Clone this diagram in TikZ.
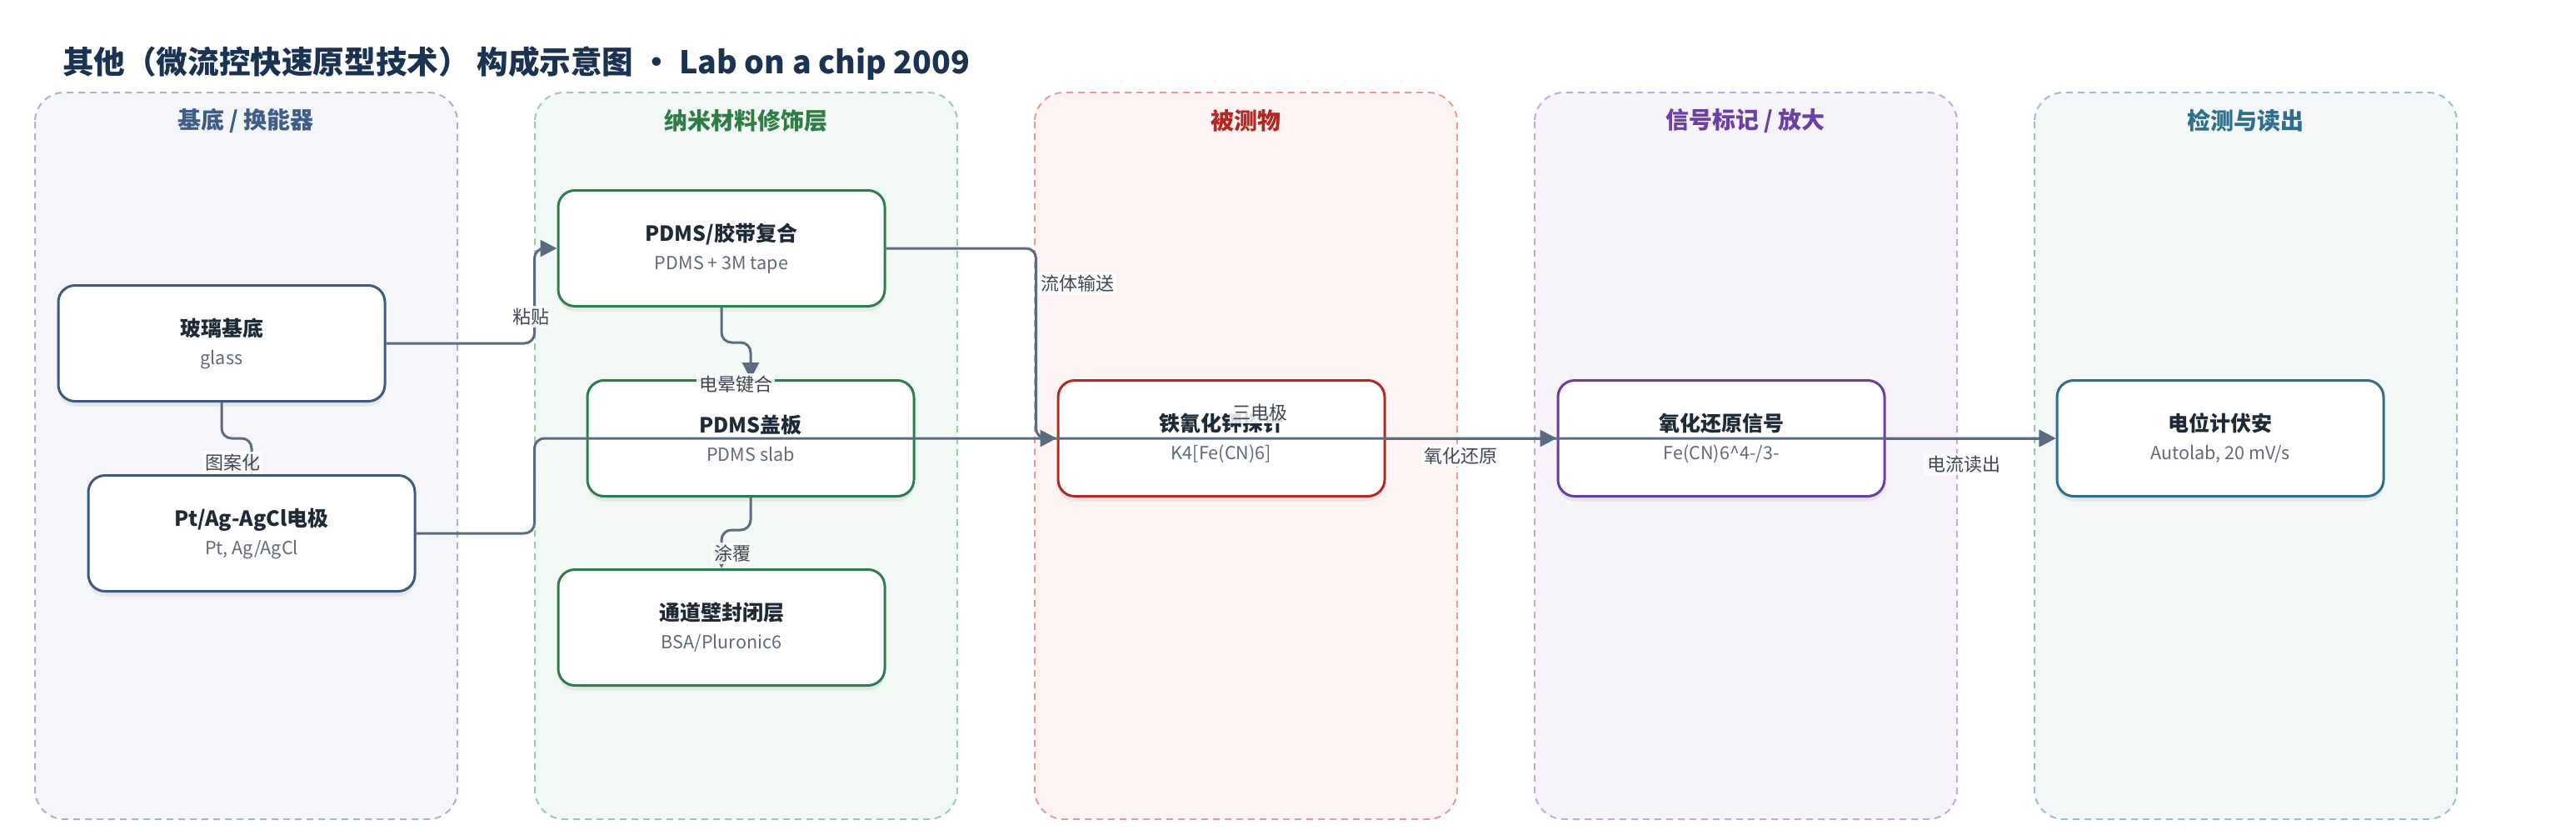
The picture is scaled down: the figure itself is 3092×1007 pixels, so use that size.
\documentclass[tikz,border=0pt]{standalone}
\usepackage{fontspec}
\setmainfont{Noto Sans CJK SC}
\usetikzlibrary{arrows.meta,shadows}

\definecolor{titleink}{HTML}{1B3352}
\definecolor{nodeink}{HTML}{1F2A37}
\definecolor{subink}{HTML}{5F6B7A}
\definecolor{edgeink}{HTML}{5B6B80}
\definecolor{labelink}{HTML}{3F4752}

\definecolor{pafill}{HTML}{F5F6FA}\definecolor{paline}{HTML}{A7B4C6}\definecolor{pahead}{HTML}{3F5D87}\definecolor{pabox}{HTML}{3D5A80}
\definecolor{pbfill}{HTML}{F2F8F4}\definecolor{pbline}{HTML}{9CCBAA}\definecolor{pbhead}{HTML}{2E7D45}\definecolor{pbbox}{HTML}{2E7D4F}
\definecolor{pcfill}{HTML}{FDF3F2}\definecolor{pcline}{HTML}{E39C98}\definecolor{pchead}{HTML}{B32821}\definecolor{pcbox}{HTML}{B22A22}
\definecolor{pdfill}{HTML}{F6F3FA}\definecolor{pdline}{HTML}{C3A9DF}\definecolor{pdhead}{HTML}{6C3FA6}\definecolor{pdbox}{HTML}{6B3D9C}
\definecolor{pefill}{HTML}{F3F7F8}\definecolor{peline}{HTML}{9AC0CE}\definecolor{pehead}{HTML}{2F6F8E}\definecolor{pebox}{HTML}{2F6E8C}

\newcommand{\boxtext}[2]{{\fontsize{12.5}{17}\selectfont\bfseries #1}\\{\color{subink}#2}}

\tikzset{
  lane/.style={line width=1pt, dash pattern=on 4pt off 3pt, rounded corners=17.5pt},
  lanehead/.style={font=\fontsize{14}{16}\selectfont\bfseries},
  box/.style={draw, line width=1.5pt, rounded corners=10pt, fill=white,
    minimum width=196pt, minimum height=69.5pt, align=center, text=nodeink,
    font=\fontsize{10.8}{17}\selectfont,
    drop shadow={shadow xshift=0pt, shadow yshift=-3pt, opacity=0.12}},
  flow/.style={draw=edgeink, line width=1.5pt, rounded corners=6pt,
    -{Triangle[length=10pt,width=10pt]}},
  elabel/.style={fill=white, fill opacity=0.85, text opacity=1, inner sep=1.5pt,
    text=labelink, font=\fontsize{11}{12}\selectfont}
}

\begin{document}
\begin{tikzpicture}[x=0.5pt,y=0.5pt]

\fill[white] (0,0) rectangle (3092,-1007);
\useasboundingbox (0,0) rectangle (3092,-1007);

\node[anchor=west, text=titleink, font=\fontsize{18.8}{22}\selectfont\bfseries] (title) at (68,-76)
  {其他（微流控快速原型技术） 构成示意图 · Lab on a chip 2009};

%LANES
\draw[lane, draw=paline, fill=pafill] (42,-111) rectangle (549,-983);
\draw[lane, draw=pbline, fill=pbfill] (642,-111) rectangle (1149,-983);
\draw[lane, draw=pcline, fill=pcfill] (1242,-111) rectangle (1749,-983);
\draw[lane, draw=pdline, fill=pdfill] (1842,-111) rectangle (2349,-983);
\draw[lane, draw=peline, fill=pefill] (2442,-111) rectangle (2949,-983);

\node[lanehead, text=pahead] (ha) at (295,-145) {基底 / 换能器};
\node[lanehead, text=pbhead] (hb) at (895,-145) {纳米材料修饰层};
\node[lanehead, text=pchead] (hc) at (1495,-145) {被测物};
\node[lanehead, text=pdhead] (hd) at (2095,-145) {信号标记 / 放大};
\node[lanehead, text=pehead] (he) at (2695,-145) {检测与读出};
%LANES

\node[box, draw=pabox](glass) at (266,-412) {\boxtext{玻璃基底}{glass}};
\node[box, draw=pabox](electrode) at (302,-640) {\boxtext{Pt/Ag-AgCl电极}{Pt, Ag/AgCl}};

\node[box, draw=pbbox](pdmstape) at (866,-298) {\boxtext{PDMS/胶带复合}{PDMS + 3M tape}};
\node[box, draw=pbbox](pdmsslab) at (901,-526) {\boxtext{PDMS盖板}{PDMS slab}};
\node[box, draw=pbbox](channel) at (866,-753) {\boxtext{通道壁封闭层}{BSA/Pluronic6}};

\node[box, draw=pcbox](probe) at (1466,-526) {\boxtext{铁氰化钾探针}{K4[Fe(CN)6]}};
\node[box, draw=pdbox](redox) at (2066,-526) {\boxtext{氧化还原信号}{Fe(CN)6\^{}4-/3-}};
\node[box, draw=pebox](meter) at (2665,-526) {\boxtext{电位计伏安}{Autolab, 20 mV/s}};

\draw[flow] (glass.east) -- ++(178,0) |- (pdmstape.west);
\draw[flow] (electrode.east) -- ++(142,0) |- (meter.west);
\draw[flow] (pdmstape.east) -- ++(180,0) |- (probe.west);
\draw[flow] (probe.east) -- (redox.west);
\draw[flow] (redox.east) -- (meter.west);

\draw[flow] (glass.south) -- ++(0,-43) -| (electrode.north);
\draw[flow] (pdmstape.south) -- ++(0,-42) -| (pdmsslab.north);
\draw[flow] (pdmsslab.south) -- ++(0,-39) -| (channel.north);

\node[elabel] (lpaste) at (637,-380) {粘贴};
\node[elabel] (lthree) at (1512,-495) {三电极};
\node[elabel] (lcorona) at (883,-461) {电晕键合};
\node[elabel] (lpattern) at (279,-555) {图案化};
\node[elabel] (lcoat) at (879,-664) {涂覆};
\node[elabel] (lfluid) at (1293,-340) {流体输送};
\node[elabel] (lredox) at (1753,-547) {氧化还原};
\node[elabel] (lread) at (2357,-557) {电流读出};

\end{tikzpicture}
\end{document}
